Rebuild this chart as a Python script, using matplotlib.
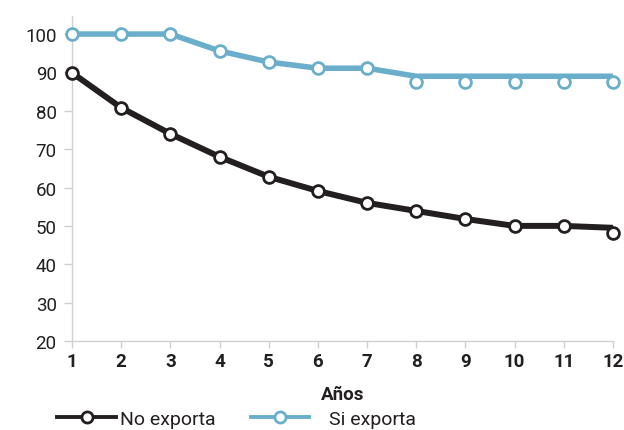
import matplotlib
matplotlib.use("Agg")
import matplotlib.pyplot as plt
from matplotlib.lines import Line2D

years = [1, 2, 3, 4, 5, 6, 7, 8, 9, 10, 11, 12]
no_exporta = [89.9, 80.8, 74.0, 68.0, 62.8, 59.1, 56.0, 53.9, 51.8, 50.0, 50.0, 48.2]
no_exporta_line = [89.9, 80.8, 74.0, 68.0, 62.8, 59.1, 56.0, 53.9, 51.8, 50.0, 50.0, 49.5]
si_exporta = [100, 100, 100, 95.6, 92.7, 91.1, 91.1, 87.5, 87.5, 87.5, 87.5, 87.5]
si_exporta_line = [100, 100, 100, 95.6, 92.7, 91.1, 91.1, 89.0, 89.0, 89.0, 89.0, 89.0]
y_ticks = [20, 30, 40, 50, 60, 70, 80, 90, 100]
x_label = "Años"
series_names = ["No exporta", "Si exporta"]

plt.rcParams['font.family'] = ['Roboto', 'DejaVu Sans']

BLACK = "#231f20"
BLUE = "#6aaecb"
TXT = "#231f20"
GRID = "#d0d0d0"
FS = 13.5

fig = plt.figure(figsize=(6.24, 4.31), dpi=100)
ax = fig.add_axes([0.1154, 0.2065, 0.867, 0.754])

ax.plot(years, si_exporta_line, color=BLUE, lw=4.0, solid_capstyle='butt', clip_on=False, zorder=3)
ax.plot(years, si_exporta, ls='none', marker='o', ms=8.5, mfc='white', mec=BLUE, mew=2.0,
        clip_on=False, zorder=4)
ax.plot(years, no_exporta_line, color=BLACK, lw=4.3, solid_capstyle='butt', clip_on=False, zorder=3)
ax.plot(years, no_exporta, ls='none', marker='o', ms=8.5, mfc='white', mec=BLACK, mew=2.0,
        clip_on=False, zorder=4)

ax.set_xlim(1, 12)
ax.set_ylim(20, 104.7)
ax.set_xticks(years)
ax.set_xticklabels([str(y) for y in years], fontweight='bold', fontsize=FS, color=TXT)
ax.set_yticks(y_ticks)
ax.set_yticklabels([str(v) for v in y_ticks], fontsize=FS, color=TXT)

for s in ['top', 'right']:
    ax.spines[s].set_visible(False)
for s in ['left', 'bottom']:
    ax.spines[s].set_color(GRID)
    ax.spines[s].set_linewidth(1.0)
ax.tick_params(axis='y', length=6, width=1.0, color=GRID, pad=5)
ax.tick_params(axis='x', length=5, width=1.0, color=GRID, pad=3)

ax.set_xlabel(x_label, fontweight='bold', fontsize=FS, color=TXT, labelpad=11)

h1 = Line2D([], [], color=BLACK, lw=2.8, marker='o', ms=8, mfc='white', mec=BLACK, mew=2.0)
h2 = Line2D([], [], color=BLUE, lw=2.8, marker='o', ms=8, mfc='white', mec=BLUE, mew=2.0)
leg1 = fig.legend([h1], [series_names[0]], loc='center left', bbox_to_anchor=(0.092, 0.026),
                  frameon=False, fontsize=14, handlelength=3.0, handletextpad=0.2,
                  labelcolor=TXT, borderpad=0.0, borderaxespad=0)
leg2 = fig.legend([h2], [series_names[1]], loc='center left', bbox_to_anchor=(0.402, 0.026),
                  frameon=False, fontsize=14, handlelength=3.0, handletextpad=1.0,
                  labelcolor=TXT, borderpad=0.0, borderaxespad=0)

fig.savefig("out.png", dpi=100)
